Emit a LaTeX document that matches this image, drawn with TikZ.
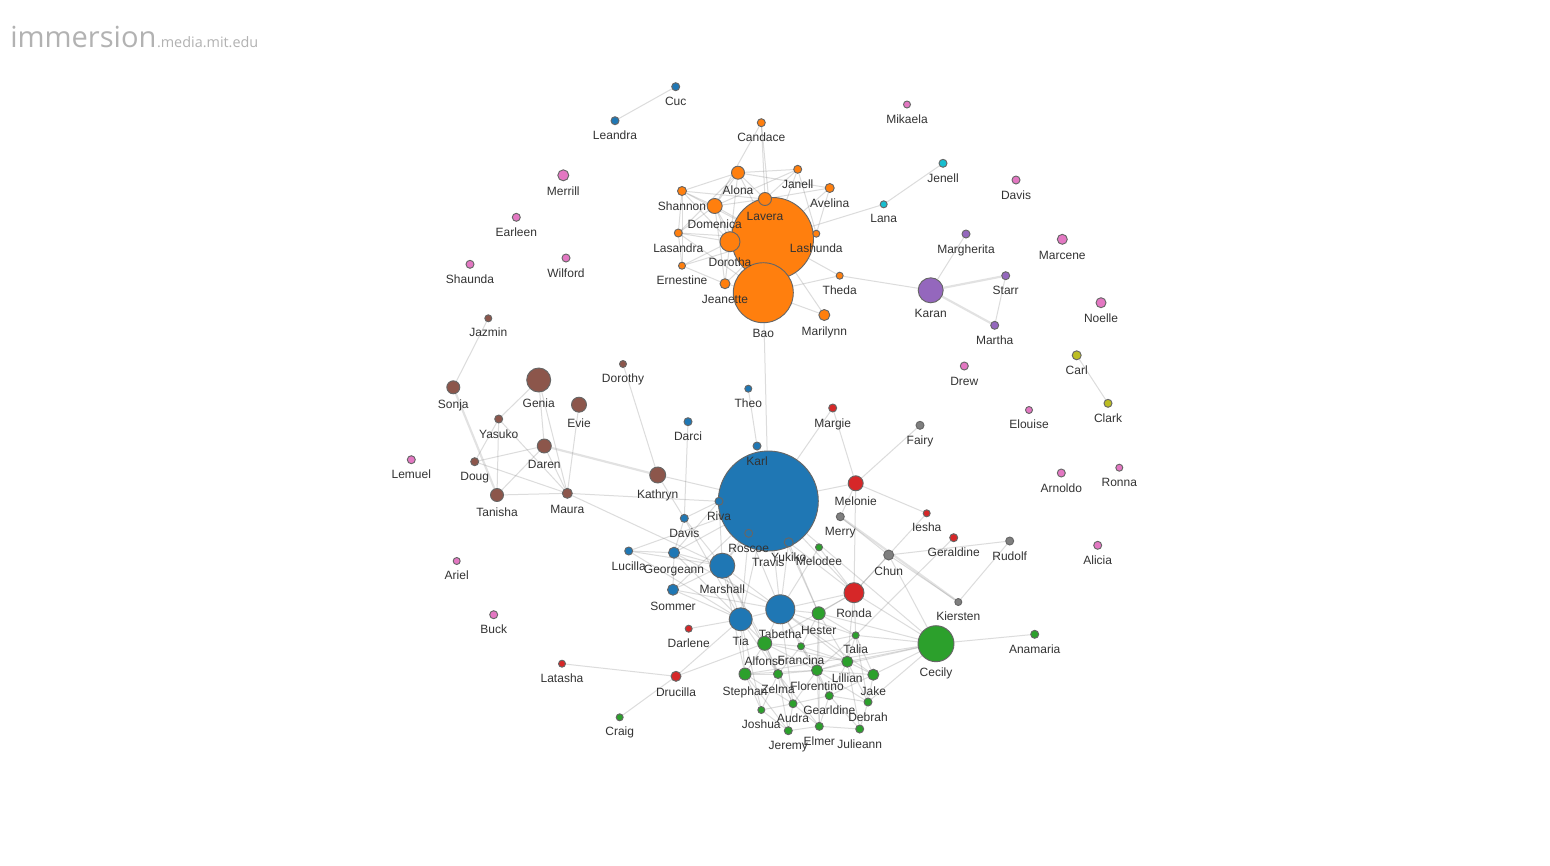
\documentclass[tikz,border=0pt]{standalone}
\usepackage{fontspec}
\setmainfont{Liberation Sans}
\newfontfamily\logofont{Open Sans}
\usepackage{tikz}
\usetikzlibrary{backgrounds}
\definecolor{cBlue}{RGB}{31, 119, 180}
\definecolor{cOrange}{RGB}{255, 127, 14}
\definecolor{cGreen}{RGB}{44, 160, 44}
\definecolor{cRed}{RGB}{214, 39, 40}
\definecolor{cPurple}{RGB}{148, 103, 189}
\definecolor{cBrown}{RGB}{140, 86, 75}
\definecolor{cPink}{RGB}{227, 119, 194}
\definecolor{cGray}{RGB}{127, 127, 127}
\definecolor{cOlive}{RGB}{188, 189, 34}
\definecolor{cCyan}{RGB}{23, 190, 207}

\tikzset{
  person/.style={circle, draw=black!60, line width=0.7pt, inner sep=0pt, minimum size=#1*1.5pt},
  who/.style={font=\fontsize{9}{10}\selectfont, text=black!80, anchor=base, inner sep=0pt},
  thicktie/.style={line width=1.6pt, opacity=0.25},
}

% one person: name, x, y, radius (px), colour, label
\newcommand{\pp}[6]{%
  \node[person=#4, fill=#5] (#1) at (#2,#3) {};
  \node[who] (#1-t) at ([yshift={-(#4+15)*0.75pt}]#1.center) {#6};%
}

\begin{document}
\begin{tikzpicture}[x=0.75pt, y=-0.75pt]
        \useasboundingbox (0,0) rectangle (1550,865);

        % logo
        \node[anchor=base west, inner sep=0pt, text=black!30,
              font=\logofont\fontsize{21.8}{24}\selectfont] (logo) at (10,47) {immersion};
        \node[anchor=base west, inner sep=0pt, text=black!30,
              font=\logofont\fontsize{10.8}{12}\selectfont] (logourl) at (logo.base east) {.media.mit.edu};

        % loners
        \pp{cuc}{675.7}{86.7}{4}{cBlue}{Cuc}
        \pp{leandra}{615}{120.7}{4}{cBlue}{Leandra}
        \pp{mikaela}{907}{104.5}{3.5}{cPink}{Mikaela}
        \pp{merrill}{563.3}{175.3}{5.5}{cPink}{Merrill}
        \pp{jenell}{943}{163.3}{4}{cCyan}{Jenell}
        \pp{davisa}{1016}{180}{4}{cPink}{Davis}
        \pp{earleen}{516.3}{217.3}{4}{cPink}{Earleen}
        \pp{lana}{883.7}{204.3}{3.5}{cCyan}{Lana}
        \pp{margherita}{966}{234}{4}{cPurple}{Margherita}
        \pp{marcene}{1062.3}{239.3}{5}{cPink}{Marcene}
        \pp{shaunda}{470}{264.3}{4}{cPink}{Shaunda}
        \pp{wilford}{566}{258}{4}{cPink}{Wilford}
        \pp{karan}{930.7}{290.3}{12.5}{cPurple}{Karan}
        \pp{starr}{1005.7}{275.7}{4}{cPurple}{Starr}
        \pp{martha}{994.7}{325.3}{4}{cPurple}{Martha}
        \pp{noelle}{1101}{302.7}{5}{cPink}{Noelle}
        \pp{carl}{1076.7}{355.3}{4.5}{cOlive}{Carl}
        \pp{clark}{1108}{403.3}{4}{cOlive}{Clark}
        \pp{drew}{964.3}{366}{4}{cPink}{Drew}
        \pp{elouise}{1029}{410}{3.5}{cPink}{Elouise}
        \pp{arnoldo}{1061.3}{473}{4}{cPink}{Arnoldo}
        \pp{ronna}{1119.3}{467.7}{3.5}{cPink}{Ronna}
        \pp{alicia}{1097.7}{545.3}{4}{cPink}{Alicia}
        \pp{lemuel}{411.3}{459.7}{4}{cPink}{Lemuel}
        \pp{ariel}{456.7}{561}{3.5}{cPink}{Ariel}
        \pp{buck}{493.7}{614.7}{4}{cPink}{Buck}

        % orange group
        \node[person=41, fill=cOrange] (orhub) at (772.5,238.5) {};
        \pp{bao}{763.3}{292.7}{30}{cOrange}{Bao}
        \pp{candace}{761.3}{122.7}{4}{cOrange}{Candace}
        \pp{alona}{738}{172.7}{6.5}{cOrange}{Alona}
        \pp{janell}{797.7}{169.3}{4}{cOrange}{Janell}
        \pp{avelina}{829.7}{188}{4.5}{cOrange}{Avelina}
        \pp{shannon}{682}{191}{4.5}{cOrange}{Shannon}
        \pp{lasandra}{678.3}{233}{4}{cOrange}{Lasandra}
        \pp{ernestine}{682}{265.7}{3.5}{cOrange}{Ernestine}
        \pp{dorotha}{730}{241.7}{10}{cOrange}{Dorotha}
        \pp{domenica}{714.7}{206}{7.5}{cOrange}{Domenica}
        \pp{lavera}{765}{199}{6.5}{cOrange}{Lavera}
        \pp{lashunda}{816.3}{233.7}{3.5}{cOrange}{Lashunda}
        \pp{jeanette}{725}{283.7}{5}{cOrange}{Jeanette}
        \pp{theda}{839.7}{275.7}{3.5}{cOrange}{Theda}
        \pp{marilynn}{824.3}{315}{5.5}{cOrange}{Marilynn}

        % brown group
        \pp{jazmin}{488.3}{318.3}{3.5}{cBrown}{Jazmin}
        \pp{sonja}{453.3}{387.3}{6.5}{cBrown}{Sonja}
        \pp{genia}{538.7}{380}{12}{cBrown}{Genia}
        \pp{evie}{579}{404.7}{7.5}{cBrown}{Evie}
        \pp{dorothy}{623}{364}{3.5}{cBrown}{Dorothy}
        \pp{yasuko}{498.7}{419}{4}{cBrown}{Yasuko}
        \pp{daren}{544.3}{446}{7}{cBrown}{Daren}
        \pp{doug}{474.7}{461.7}{4}{cBrown}{Doug}
        \pp{tanisha}{497}{495}{6.5}{cBrown}{Tanisha}
        \pp{maura}{567.3}{493.3}{5}{cBrown}{Maura}
        \pp{kathryn}{657.7}{475}{8}{cBrown}{Kathryn}

        % blue group
        \pp{travis}{768.3}{501}{50}{cBlue}{Travis}
        \pp{theo}{748.3}{388.7}{3.5}{cBlue}{Theo}
        \pp{darci}{688}{421.7}{4}{cBlue}{Darci}
        \pp{karl}{757}{446}{4}{cBlue}{Karl}
        \pp{riva}{719}{501.3}{4}{cBlue}{Riva}
        \pp{davisb}{684.3}{518.3}{4}{cBlue}{Davis}
        \pp{roscoe}{748.7}{533.3}{4}{cBlue}{Roscoe}
        \pp{yukiko}{788.7}{542.3}{4.5}{cBlue}{Yukiko}
        \pp{lucilla}{628.7}{551}{4}{cBlue}{Lucilla}
        \pp{georgeann}{674}{552.7}{5.5}{cBlue}{Georgeann}
        \pp{marshall}{722.3}{565.7}{12.5}{cBlue}{Marshall}
        \pp{sommer}{673}{589.7}{5.5}{cBlue}{Sommer}
        \pp{tabetha}{780.3}{609.3}{14.5}{cBlue}{Tabetha}
        \pp{tia}{740.7}{619.3}{11.5}{cBlue}{Tia}

        % red and grey
        \pp{margie}{832.7}{408}{4}{cRed}{Margie}
        \pp{melonie}{855.7}{483.3}{7.5}{cRed}{Melonie}
        \pp{fairy}{920}{425.3}{4}{cGray}{Fairy}
        \pp{merry}{840.3}{516.7}{4}{cGray}{Merry}
        \pp{iesha}{926.7}{513.3}{3.5}{cRed}{Iesha}
        \pp{geraldine}{953.7}{537.7}{4}{cRed}{Geraldine}
        \pp{rudolf}{1009.7}{541}{4}{cGray}{Rudolf}
        \pp{chun}{888.7}{555}{5}{cGray}{Chun}
        \pp{kiersten}{958.3}{602}{3.5}{cGray}{Kiersten}
        \pp{ronda}{854}{592.7}{10}{cRed}{Ronda}
        \pp{darlene}{688.7}{628.7}{3.5}{cRed}{Darlene}
        \pp{drucilla}{676}{676.3}{5}{cRed}{Drucilla}
        \pp{latasha}{562}{663.7}{3.5}{cRed}{Latasha}

        % green group
        \pp{melodee}{819}{547.3}{3.5}{cGreen}{Melodee}
        \pp{hester}{818.7}{613.3}{6.5}{cGreen}{Hester}
        \pp{talia}{855.7}{635.3}{3.5}{cGreen}{Talia}
        \pp{cecily}{936}{643.7}{18}{cGreen}{Cecily}
        \pp{anamaria}{1034.7}{634.3}{4}{cGreen}{Anamaria}
        \pp{alfonso}{764.7}{643.3}{7}{cGreen}{Alfonso}
        \pp{francina}{801}{646.3}{3.5}{cGreen}{Francina}
        \pp{lillian}{847.3}{661.7}{5.5}{cGreen}{Lillian}
        \pp{stephan}{745}{674}{6}{cGreen}{Stephan}
        \pp{zelma}{778}{674}{4.5}{cGreen}{Zelma}
        \pp{florentino}{817}{670.3}{5.5}{cGreen}{Florentino}
        \pp{jake}{873.3}{674.7}{5.5}{cGreen}{Jake}
        \pp{gearldine}{829.3}{695.7}{4}{cGreen}{Gearldine}
        \pp{debrah}{868}{702}{4}{cGreen}{Debrah}
        \pp{audra}{793}{703.7}{4}{cGreen}{Audra}
        \pp{joshua}{761.3}{710}{3.5}{cGreen}{Joshua}
        \pp{jeremy}{788.3}{730.7}{4}{cGreen}{Jeremy}
        \pp{elmer}{819.3}{726.3}{4}{cGreen}{Elmer}
        \pp{julieann}{859.7}{729}{4}{cGreen}{Julieann}
        \pp{craig}{619.7}{717.3}{3.5}{cGreen}{Craig}

        % ties
        \begin{pgfonlayer}{background}
        \fill[white] (0,0) rectangle (1550,865);
        \begin{scope}[every edge/.style={draw=black!45, line width=0.75pt, opacity=0.3}]
        \path (cuc) edge (leandra);
        \path (jenell) edge (lana);
        \path (lana) edge (orhub);
        \path (theda) edge (karan);
        \path (karan) edge (margherita) edge[thicktie] (starr) edge[thicktie] (martha);
        \path (starr) edge (martha);
        \path (carl) edge (clark);

        \path (candace) edge (lavera) edge (domenica) edge (orhub);
        \path (alona) edge (shannon) edge (janell) edge (lavera) edge (domenica) edge (dorotha) edge (orhub) edge (avelina) edge (lasandra);
        \path (shannon) edge (domenica) edge (lavera) edge (lasandra) edge (dorotha) edge (orhub) edge (ernestine);
        \path (janell) edge (lavera) edge (orhub) edge (lashunda) edge (domenica);
        \path (avelina) edge (lashunda) edge (orhub) edge (lavera);
        \path (domenica) edge (lasandra) edge (dorotha) edge (orhub) edge (lavera) edge (jeanette) edge (bao);
        \path (lasandra) edge (dorotha) edge (orhub) edge (ernestine) edge (bao);
        \path (dorotha) edge (ernestine) edge (jeanette) edge (bao) edge (orhub);
        \path (ernestine) edge (jeanette) edge (orhub);
        \path (jeanette) edge (bao) edge (orhub);
        \path (orhub) edge (theda) edge (marilynn) edge (bao) edge (lashunda) edge (lavera);
        \path (bao) edge (marilynn) edge (theda) edge (travis);

        \path (jazmin) edge (sonja);
        \path (sonja) edge[thicktie] (tanisha);
        \path (yasuko) edge (genia) edge (doug) edge (tanisha) edge (maura);
        \path (genia) edge (daren) edge (maura);
        \path (evie) edge (maura);
        \path (daren) edge (doug) edge (tanisha) edge (maura) edge[thicktie] (kathryn);
        \path (doug) edge (maura);
        \path (tanisha) edge (maura);
        \path (maura) edge (marshall) edge (riva);
        \path (dorothy) edge (kathryn);
        \path (kathryn) edge (davisb) edge (travis);

        \path (theo) edge (karl);
        \path (karl) edge (travis);
        \path (darci) edge (davisb);
        \path (margie) edge (travis) edge (melonie);
        \path (melonie) edge (travis) edge (fairy) edge (iesha) edge (merry) edge (ronda);
        \path (merry) edge (chun) edge[thicktie] (kiersten);
        \path (chun) edge (kiersten) edge (rudolf) edge (ronda) edge (cecily);
        \path (rudolf) edge (kiersten);
        \path (iesha) edge (ronda);
        \path (geraldine) edge (talia);
        \path (riva) edge (travis) edge (davisb) edge (georgeann) edge (marshall);
        \path (roscoe) edge (marshall) edge (tia) edge (tabetha);
        \path (yukiko) edge (tabetha) edge (hester) edge (ronda);
        \path (travis) edge (marshall) edge (tabetha) edge (tia) edge (georgeann) edge (hester) edge (ronda) edge (cecily) edge (sommer) edge (lucilla);
        \path (melodee) edge (tabetha) edge (ronda);
        \path (lucilla) edge (georgeann) edge (marshall) edge (tia);
        \path (georgeann) edge (davisb) edge (marshall) edge (sommer) edge (tia) edge (tabetha);
        \path (marshall) edge (sommer) edge (tia) edge (tabetha) edge (alfonso) edge (stephan) edge (zelma);
        \path (sommer) edge (tia) edge (tabetha);
        \path (davisb) edge (marshall) edge (tia);
        \path (tia) edge (tabetha) edge (darlene) edge (drucilla) edge (alfonso) edge (stephan) edge (zelma) edge (joshua);
        \path (tabetha) edge (hester) edge (ronda) edge (alfonso) edge (francina) edge (lillian) edge (florentino) edge (audra) edge (talia) edge (jake);
        \path (hester) edge (ronda) edge (talia) edge (lillian) edge (francina) edge (cecily) edge (florentino) edge (elmer);
        \path (ronda) edge (cecily) edge (talia) edge (lillian) edge (alfonso);
        \path (cecily) edge (talia) edge (lillian) edge (jake) edge (anamaria) edge (stephan) edge (florentino) edge (debrah);
        \path (drucilla) edge (latasha) edge (craig) edge (alfonso);
        \path (alfonso) edge (francina) edge (stephan) edge (zelma) edge (florentino) edge (lillian) edge (audra);
        \path (francina) edge (lillian) edge (zelma) edge (florentino) edge (gearldine) edge (talia);
        \path (lillian) edge (talia) edge (jake) edge (florentino) edge (gearldine) edge (debrah) edge (julieann);
        \path (stephan) edge (zelma) edge (joshua) edge (audra) edge (jeremy) edge (florentino);
        \path (zelma) edge (audra) edge (joshua) edge (florentino) edge (jeremy) edge (elmer);
        \path (florentino) edge (gearldine) edge (audra) edge (elmer) edge (jake) edge (debrah);
        \path (jake) edge (debrah) edge (gearldine) edge (talia);
        \path (gearldine) edge (audra) edge (debrah) edge (elmer) edge (julieann);
        \path (audra) edge (jeremy) edge (joshua) edge (elmer);
        \path (joshua) edge (jeremy);
        \path (jeremy) edge (elmer);
        \path (elmer) edge (julieann);
        \path (debrah) edge (julieann);
        \path (talia) edge (florentino) edge (debrah);
        \end{scope}
        \end{pgfonlayer}
\end{tikzpicture}
\end{document}
